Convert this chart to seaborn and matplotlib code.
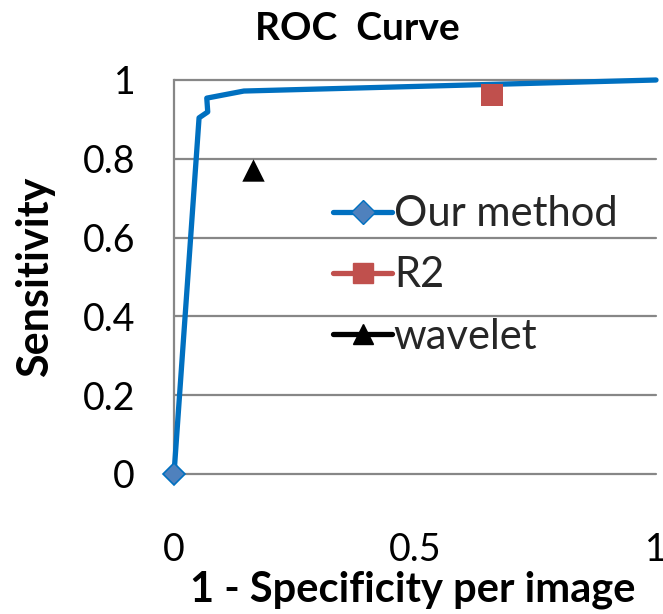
import matplotlib
matplotlib.use("Agg")
import matplotlib.pyplot as plt
import seaborn as sns
import pandas as pd
from matplotlib.lines import Line2D

# Data
ours_fpr = [0.0, 0.052, 0.07, 0.068, 0.145, 1.0]
ours_tpr = [0.0, 0.904, 0.919, 0.954, 0.972, 1.0]
r2_fpr = [0.66]
r2_tpr = [0.962]
wavelet_fpr = [0.164]
wavelet_tpr = [0.772]
series_names = ["Our method", "R2", "wavelet"]
x_ticks = [0, 0.5, 1]
x_tick_labels = ["0", "0.5", "1"]
y_ticks = [0, 0.2, 0.4, 0.6, 0.8, 1.0]
y_tick_labels = ["0", "0.2", "0.4", "0.6", "0.8", "1"]

BLUE = "#0070C0"
DIAMOND = "#4F81BD"
RED = "#C0504D"
GRID = "#878787"

sns.set_theme(style="white")
plt.rcParams["font.family"] = ["Lato", "DejaVu Sans"]

fig = plt.figure(figsize=(6.63, 6.14), dpi=100)
ax = fig.add_axes([174/663, 1 - 474/614, 482/663, 394/614])

df_ours = pd.DataFrame({"x": ours_fpr, "y": ours_tpr})
sns.lineplot(data=df_ours, x="x", y="y", ax=ax, sort=False, color=BLUE,
             linewidth=3.8, marker="D", markersize=11, markevery=[0],
             markerfacecolor=DIAMOND, markeredgecolor=BLUE, markeredgewidth=1.2,
             zorder=4, clip_on=False)
sns.scatterplot(x=r2_fpr, y=r2_tpr, ax=ax, marker="s", s=260, color=RED,
                edgecolor=RED, linewidth=0, zorder=5)
sns.scatterplot(x=wavelet_fpr, y=wavelet_tpr, ax=ax, marker="^", s=260,
                color="black", edgecolor="black", linewidth=0, zorder=5)

ax.set_xlim(0, 1)
ax.set_ylim(0, 1)
ax.set_xticks(x_ticks)
ax.set_xticklabels(x_tick_labels)
ax.set_yticks(y_ticks)
ax.set_yticklabels(y_tick_labels)
ax.tick_params(axis="x", length=0, pad=42, labelsize=27, colors="black")
ax.tick_params(axis="y", length=0, pad=28, labelsize=27, colors="black")

ax.grid(False)
for yv in y_ticks:
    ax.axhline(yv, color=GRID, linewidth=1.6, zorder=1, clip_on=False)
for s in ["top", "right", "bottom"]:
    ax.spines[s].set_visible(False)
ax.spines["left"].set_color(GRID)
ax.spines["left"].set_linewidth(1.6)

ax.set_xlabel("1 - Specificity per image", fontsize=30, fontweight="bold",
              color="black")
ax.xaxis.set_label_coords(0.495, (474 - 590) / 394)
ax.xaxis.label.set_verticalalignment("center")
ax.set_ylabel("Sensitivity", fontsize=31, fontweight="bold", color="black")
ax.yaxis.set_label_coords((35 - 174) / 482, 0.5)
ax.yaxis.label.set_verticalalignment("center")
ax.set_title("ROC  Curve", fontsize=28, fontweight="bold", color="black",
             x=(357 - 174) / 482, y=(474 - 28) / 394, va="center", pad=0)

handles = [
    Line2D([], [], color=BLUE, linewidth=3.8, marker="D", markersize=12,
           markerfacecolor=DIAMOND, markeredgecolor=BLUE),
    Line2D([], [], color=RED, linewidth=3.8, marker="s", markersize=14,
           markerfacecolor=RED, markeredgecolor=RED),
    Line2D([], [], color="black", linewidth=3.8, marker="^", markersize=14,
           markerfacecolor="black", markeredgecolor="black"),
]
ax.legend(handles, series_names, loc="upper left",
          bbox_to_anchor=(0.296, 0.75), frameon=False, fontsize=30,
          handlelength=1.4, handletextpad=0.05, labelspacing=0.56,
          borderaxespad=0)

fig.savefig("out.png", dpi=100)
